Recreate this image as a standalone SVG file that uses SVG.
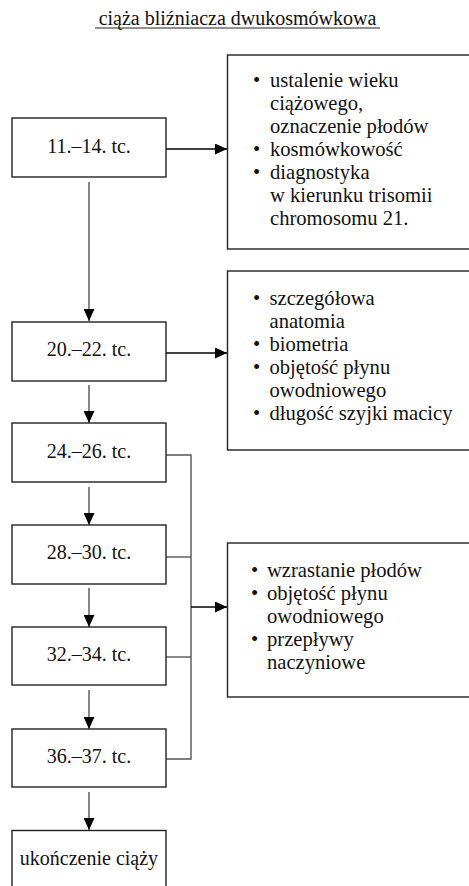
<svg xmlns="http://www.w3.org/2000/svg" width="469" height="886" viewBox="0 0 469 886" font-family="'Liberation Serif', 'DejaVu Serif', serif">
<defs>
<marker id="ah" viewBox="0 0 12 11" refX="12" refY="5.5" markerWidth="12" markerHeight="11" markerUnits="userSpaceOnUse" orient="auto">
<path d="M0,0 L12,5.5 L0,11 Z" fill="#000"/>
</marker>
</defs>
<style>
text{font-family:'Liberation Serif','DejaVu Serif',serif;font-size:20px;fill:#111}
.b text{font-size:20.6px}
.box{fill:#fff;stroke:#222;stroke-width:1.4}
.lbl{text-anchor:middle}
.con{fill:none;stroke:#555;stroke-width:1.4}
.arr{fill:none;stroke:#000;stroke-width:1.4}
</style>
<rect width="469" height="886" fill="#fff"/>
<g id="title">
<text x="237.5" y="25" text-anchor="middle">ciąża bliźniacza dwukosmówkowa</text>
<line x1="95" y1="28" x2="380" y2="28" stroke="#222" stroke-width="1"/>
</g>
<g id="connectors">
<line class="arr" x1="166" y1="149" x2="227" y2="149" marker-end="url(#ah)"/>
<line class="arr" x1="166" y1="353" x2="227" y2="353" marker-end="url(#ah)"/>
<line class="con" x1="89" y1="182" x2="89" y2="321" marker-end="url(#ah)"/>
<line class="con" x1="89" y1="385" x2="89" y2="423" marker-end="url(#ah)"/>
<line class="con" x1="89" y1="487" x2="89" y2="525" marker-end="url(#ah)"/>
<line class="con" x1="89" y1="588" x2="89" y2="627" marker-end="url(#ah)"/>
<line class="con" x1="89" y1="690" x2="89" y2="729" marker-end="url(#ah)"/>
<line class="con" x1="89" y1="792" x2="89" y2="830" marker-end="url(#ah)"/>
<polyline class="con" points="166,455 191,455 191,759 166,759"/>
<line class="con" x1="166" y1="557" x2="191" y2="557"/>
<line class="con" x1="166" y1="657" x2="191" y2="657"/>
<line class="arr" x1="191" y1="607" x2="227" y2="607" marker-end="url(#ah)"/>
</g>
<g id="n1"><rect class="box" x="12" y="118" width="154" height="59"/><text class="lbl" x="89" y="153">11.–14. tc.</text></g>
<g id="n2"><rect class="box" x="12" y="322" width="154" height="59"/><text class="lbl" x="89" y="356">20.–22. tc.</text></g>
<g id="n3"><rect class="box" x="12" y="423" width="154" height="59"/><text class="lbl" x="89" y="458">24.–26. tc.</text></g>
<g id="n4"><rect class="box" x="12" y="525" width="154" height="59"/><text class="lbl" x="89" y="559">28.–30. tc.</text></g>
<g id="n5"><rect class="box" x="12" y="627" width="154" height="58"/><text class="lbl" x="89" y="661">32.–34. tc.</text></g>
<g id="n6"><rect class="box" x="12" y="729" width="154" height="58"/><text class="lbl" x="89" y="763">36.–37. tc.</text></g>
<g id="n7"><rect class="box" x="12" y="830.5" width="154" height="70"/><text class="lbl" x="89" y="865">ukończenie ciąży</text></g>
<g id="r1" class="b">
<rect class="box" x="227.5" y="55" width="260" height="194"/>
<text x="253" y="87">•</text><text x="270" y="87">ustalenie wieku</text>
<text x="270" y="110">ciążowego,</text>
<text x="270" y="133">oznaczenie płodów</text>
<text x="253" y="156">•</text><text x="270" y="156">kosmówkowość</text>
<text x="253" y="179">•</text><text x="270" y="179">diagnostyka</text>
<text x="270" y="202">w kierunku trisomii</text>
<text x="270" y="225">chromosomu 21.</text>
</g>
<g id="r2" class="b">
<rect class="box" x="227.5" y="271" width="260" height="179"/>
<text x="253" y="305">•</text><text x="269.5" y="305">szczegółowa</text>
<text x="269.5" y="328">anatomia</text>
<text x="253" y="351">•</text><text x="269.5" y="351">biometria</text>
<text x="253" y="374">•</text><text x="269.5" y="374">objętość płynu</text>
<text x="269.5" y="397">owodniowego</text>
<text x="253" y="420">•</text><text x="269.5" y="420">długość szyjki macicy</text>
</g>
<g id="r3" class="b">
<rect class="box" x="227.5" y="543" width="260" height="154"/>
<text x="251" y="577">•</text><text x="267" y="577">wzrastanie płodów</text>
<text x="251" y="600">•</text><text x="267" y="600">objętość płynu</text>
<text x="267" y="623">owodniowego</text>
<text x="251" y="646">•</text><text x="267" y="646">przepływy</text>
<text x="267" y="669">naczyniowe</text>
</g>
</svg>
